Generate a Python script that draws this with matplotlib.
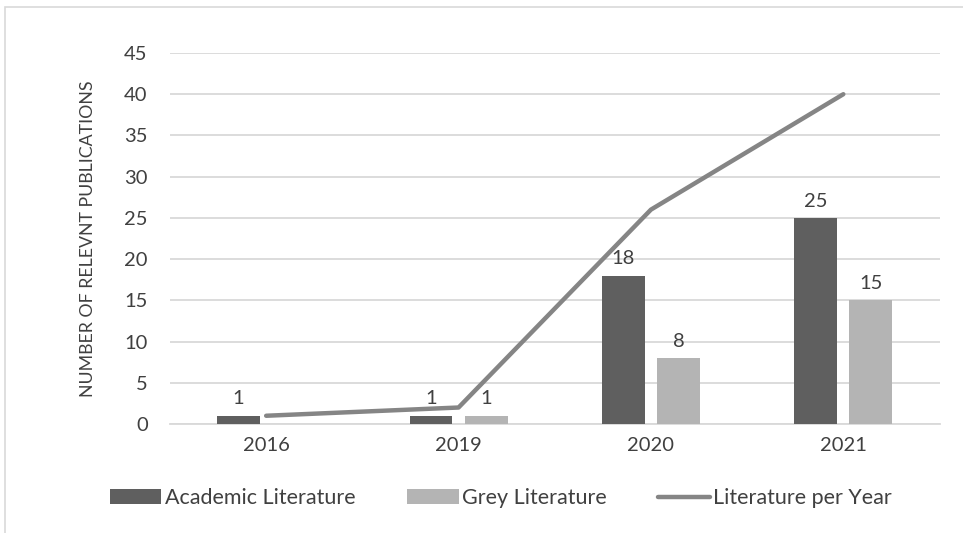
import matplotlib.pyplot as plt
from matplotlib.patches import Rectangle
import numpy as np

plt.rcParams['font.family'] = ['Lato', 'DejaVu Sans']

years = ['2016', '2019', '2020', '2021']
academic = [1, 1, 18, 25]
grey = [0, 1, 8, 15]
per_year = [1, 2, 26, 40]

dark = '#5f5f5f'
light = '#b4b4b4'
line_col = '#858585'
text_col = '#404040'

fig = plt.figure(figsize=(9.63, 5.33), dpi=100)
# chart border
fig.patches.append(Rectangle((0.005, -0.1), 1.2, 1.087, transform=fig.transFigure,
                             fill=False, edgecolor='#d9d9d9', linewidth=1.2))
ax = fig.add_axes([0.1765, 0.2045, 0.7991, 0.6961])

x = np.arange(len(years))
w = 0.223
off = 0.143
b1 = ax.bar(x - off, academic, w, color=dark, label='Academic Literature', zorder=3)
b2 = ax.bar(x + off, grey, w, color=light, label='Grey Literature', zorder=3)
ln, = ax.plot(x, per_year, color=line_col, linewidth=3.2, solid_capstyle='round',
              label='Literature per Year', zorder=4)

for bars, vals in ((b1, academic), (b2, grey)):
    for rect, v in zip(bars, vals):
        if v == 0:
            continue
        ax.annotate(str(v), (rect.get_x() + rect.get_width() / 2, v),
                    textcoords='offset points', xytext=(0, 6), ha='center',
                    va='bottom', fontsize=14.5, color=text_col, zorder=5)

ax.set_xlim(-0.5, len(years) - 0.5)
ax.set_ylim(0, 45)
ax.set_yticks(range(0, 46, 5))
ax.set_xticks(x)
ax.set_xticklabels(years)
ax.yaxis.grid(True, color='#d9d9d9', linewidth=1.3, zorder=0)
ax.set_axisbelow(True)
for s in ax.spines.values():
    s.set_visible(False)
ax.spines['bottom'].set_visible(True)
ax.spines['bottom'].set_color('#d9d9d9')
ax.spines['bottom'].set_linewidth(1.3)
ax.tick_params(length=0, labelsize=14.5, labelcolor=text_col)
ax.tick_params(axis='y', pad=16)
ax.tick_params(axis='x', pad=9)
ax.set_ylabel('NUMBER OF RELEVNT PUBLICATIONS', fontsize=12.8, color=text_col, labelpad=20)

ax.legend([b1, b2, ln], ['Academic Literature', 'Grey Literature', 'Literature per Year'],
          loc='center', bbox_to_anchor=(0.43, -0.2), ncol=3, frameon=False,
          fontsize=15.5, handlelength=2.4, handletextpad=0.15, columnspacing=2.4,
          labelcolor=text_col)

fig.savefig('out.png', dpi=100)
